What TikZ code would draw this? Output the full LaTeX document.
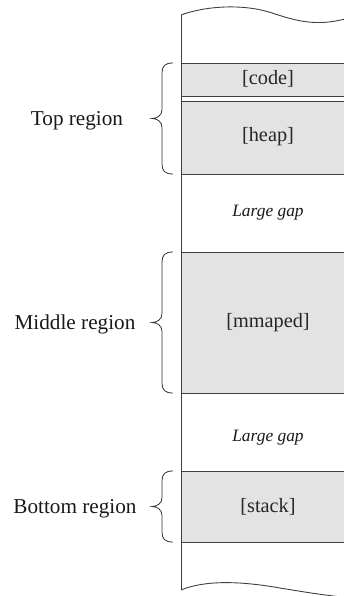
\documentclass[tikz,border=0pt]{standalone}
\usepackage{fontspec}
\setmainfont{Liberation Serif}
\begin{document}
\begin{tikzpicture}[x=1pt,y=-1pt,
  outline/.style={draw=black!75,line width=0.9pt},
  regionbox/.style={outline,fill=black!11},
  boxlabel/.style={font=\fontsize{20.3}{23}\selectfont,text=black!85},
  gaplabel/.style={font=\fontsize{17.4}{20}\selectfont\itshape,text=black!90},
  sidelabel/.style={font=\fontsize{21.2}{24}\selectfont,text=black!90},
  bracepath/.style={draw=black!80,line width=0.8pt}]
\useasboundingbox (0,0) rectangle (344,596);
\begin{scope}
\clip (0,0) rectangle (344,596);
% memory strip outline
\draw[outline] (181,15) .. controls (205,6) and (245,3) .. (275,14)
  .. controls (300,22) and (320,27) .. (352,17);
\draw[outline] (181,15) -- (181,590);
\draw[outline] (181,590) .. controls (205,580) and (240,581) .. (280,588)
  .. controls (310,593) and (330,596) .. (352,598);
% regions
\draw[regionbox] (181,63) rectangle (360,96);
\draw[regionbox] (181,101) rectangle (360,174);
\draw[regionbox] (181,252) rectangle (360,393);
\draw[regionbox] (181,471) rectangle (360,542);
\end{scope}
\node[boxlabel] (code) at (268,79) {[code]};
\node[boxlabel] (heap) at (268,137) {[heap]};
\node[gaplabel] (gap1) at (268,213) {Large gap};
\node[boxlabel] (mmaped) at (268,323) {[mmaped]};
\node[gaplabel] (gap2) at (268,438) {Large gap};
\node[boxlabel] (stack) at (268,507) {[stack]};
% braces
\newcommand{\regionbrace}[2]{%
  \pgfmathsetmacro{\ym}{(#1+#2)/2}%
  \draw[bracepath] (173,#1) .. controls (165,#1) and (162,#1+3) .. (162,#1+10)
    -- (162,\ym-9) .. controls (162,\ym-3) and (157,\ym) .. (152,\ym)
    .. controls (157,\ym) and (162,\ym+3) .. (162,\ym+9)
    -- (162,#2-10) .. controls (162,#2-3) and (165,#2) .. (173,#2);}
\regionbrace{63}{174}
\regionbrace{252}{393}
\regionbrace{471}{542}
\node[sidelabel] (top) at (77,121) {Top region};
\node[sidelabel] (mid) at (75,324) {Middle region};
\node[sidelabel] (bot) at (75,509) {Bottom region};
\end{tikzpicture}
\end{document}
